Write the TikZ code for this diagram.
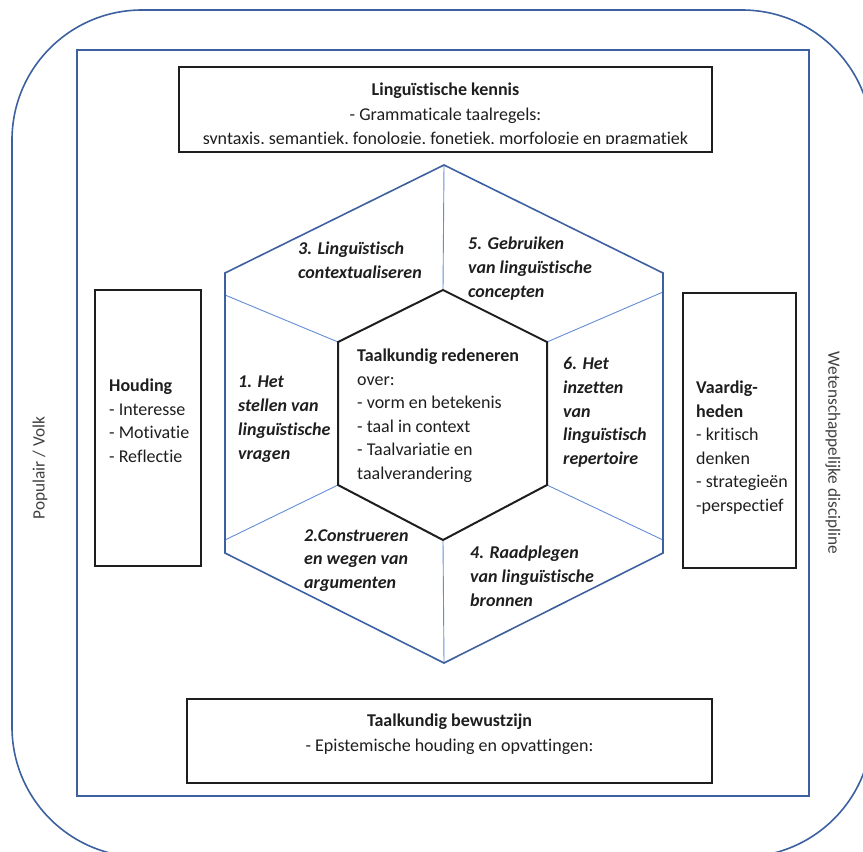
\documentclass[tikz,border=0pt]{standalone}
\usepackage{fontspec}
\setmainfont{Carlito}[Ligatures=NoCommon]
\definecolor{bluedark}{RGB}{60,96,160}
\definecolor{bluelight}{RGB}{100,140,215}
\definecolor{boxblack}{RGB}{30,30,30}
\begin{document}
\begin{tikzpicture}[x=1pt,y=-1pt,
  frame/.style={draw=bluedark, line width=1.6pt},
  blackbox/.style={draw=boxblack, line width=2pt, fill=none, inner sep=0pt},
  divider/.style={draw=bluelight, line width=0.9pt},
  txt/.style={font=\fontsize{18}{23.5}\selectfont, inner sep=0pt, align=left, anchor=north west, text=boxblack},
  ctxt/.style={font=\fontsize{18}{24.5}\selectfont, inner sep=0pt, align=center, anchor=north, text=boxblack},
  sector/.style={txt, font=\fontsize{18}{23.8}\selectfont\bfseries\itshape},
  sidetxt/.style={font=\fontsize{17.3}{22}\selectfont, inner sep=0pt, text=boxblack!85}]
\useasboundingbox (0,0) rectangle (863,852);
\clip (0,0) rectangle (863,852);
% outer rounded frame
\draw[frame, rounded corners=130pt] (12,10) rectangle (872,857);
% inner frame
\draw[frame] (77,50) rectangle (809,796);

% hexagon coordinates
\coordinate (OT) at (444,165);
\coordinate (OUL) at (225,273);
\coordinate (OUR) at (663,273);
\coordinate (OLL) at (225,553);
\coordinate (OLR) at (663,553);
\coordinate (OB) at (444,663);
\coordinate (IT) at (443,290);
\coordinate (IUL) at (338,342);
\coordinate (IUR) at (547,342);
\coordinate (ILL) at (338,485);
\coordinate (ILR) at (547,485);
\coordinate (IB) at (443,540);
\coordinate (ML1) at (225,295);
\coordinate (MR1) at (663,292);
\coordinate (ML2) at (225,540);
\coordinate (MR2) at (663,540);

% dividers
\draw[divider] (IT) -- (OT);
\draw[divider] (IB) -- (OB);
\draw[divider] (IUL) -- (ML1);
\draw[divider] (IUR) -- (MR1);
\draw[divider] (ILL) -- (ML2);
\draw[divider] (ILR) -- (MR2);
% outer hexagon
\draw[frame, line join=miter] (OT) -- (OUR) -- (OLR) -- (OB) -- (OLL) -- (OUL) -- cycle;
% inner hexagon
\draw[draw=boxblack, line width=2pt, line join=miter] (IT) -- (IUR) -- (ILR) -- (IB) -- (ILL) -- (IUL) -- cycle;

% top box
\node[blackbox, minimum width=533pt, minimum height=85pt] (kennis) at (445.5,109.5) {};
\begin{scope}
\clip (179,67) rectangle (712,143.5);
\node[ctxt] (kennistxt) at (445.5,83) {\textbf{Linguïstische kennis}\\- Grammaticale taalregels:\\syntaxis, semantiek, fonologie, fonetiek, morfologie en pragmatiek};
\end{scope}

% bottom box
\node[blackbox, minimum width=525pt, minimum height=84pt] (bewust) at (449.5,741) {};
\node[ctxt] (bewusttxt) at (449.5,714) {\textbf{Taalkundig bewustzijn}\\- Epistemische houding en opvattingen:};

% left box
\node[blackbox, minimum width=106pt, minimum height=276pt] (houding) at (148,428) {};
\node[txt] (houdingtxt) at (109,379) {\textbf{Houding}\\- Interesse\\- Motivatie\\- Reflectie};

% right box
\node[blackbox, minimum width=113pt, minimum height=275pt] (vaardig) at (739.5,430.5) {};
\node[txt] (vaardigtxt) at (696,381) {\textbf{Vaardig-}\\\textbf{heden}\\- kritisch\\denken\\- strategieën\\-perspectief};

% centre text
\node[txt] (centre) at (357,349) {\textbf{Taalkundig redeneren}\\over:\\- vorm en betekenis\\- taal in context\\- Taalvariatie en\\taalverandering};

% sectors
\node[sector] (s3) at (298,242) {3. Linguïstisch\\contextualiseren};
\node[sector] (s5) at (468,237) {5. Gebruiken\\van linguïstische\\concepten};
\node[sector] (s1) at (238,376) {1. Het\\stellen van\\linguïstische\\vragen};
\node[sector] (s6) at (563,357) {6. Het\\inzetten\\van\\linguïstisch\\repertoire};
\node[sector] (s2) at (304,529) {2.Construeren\\en wegen van\\argumenten};
\node[sector] (s4) at (470,546) {4. Raadplegen\\van linguïstische\\bronnen};

% side labels
\node[sidetxt, rotate=90] (volk) at (40,468) {Populair / Volk};
\node[sidetxt, rotate=-90] (wet) at (833,453) {Wetenschappelijke discipline};
\end{tikzpicture}
\end{document}
